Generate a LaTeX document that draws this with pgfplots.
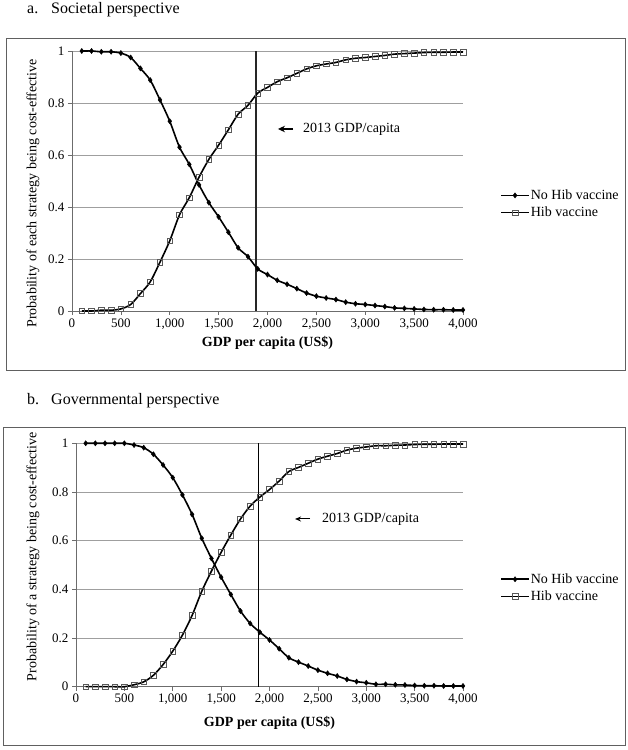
\documentclass[border=0pt]{standalone}
\usepackage{fontspec}
\setmainfont{Liberation Serif}
\usepackage{pgfplots}
\pgfplotsset{compat=1.18}
\usetikzlibrary{arrows.meta}

\pgfplotsset{
 hibaxis/.style={
  scale only axis, anchor=south west,
  xmin=0, xmax=4000, ymin=0, ymax=1,
  axis lines=left,
  axis line style={-, draw=gray!85!black, line width=0.6pt},
  xtick={0,500,1000,1500,2000,2500,3000,3500,4000},
  ytick={0,0.2,0.4,0.6,0.8,1},
  xticklabels={0,500,{1,000},{1,500},{2,000},{2,500},{3,000},{3,500},{4,000}},
  yticklabels={0,0.2,0.4,0.6,0.8,1},
  tick align=outside, major tick length=4pt,
  tick style={draw=gray!85!black, line width=0.6pt},
  ymajorgrids, grid style={draw=gray!75, line width=0.6pt},
  tick label style={font=\fontsize{13}{15}\selectfont},
  label style={font=\fontsize{14}{16}\selectfont},
  xlabel={\textbf{GDP per capita (US\$)}},
  legend style={draw=none, fill=none, font=\fontsize{14}{16}\selectfont,
    anchor=west, row sep=4pt, nodes={inner sep=1pt}},
  legend cell align=left,
  legend image code/.code={\draw[mark repeat=2, mark phase=2] plot coordinates {(0pt,0pt) (14pt,0pt) (28pt,0pt)};},
  clip=false,
 },
 nohib/.style={black, line width=1.6pt, smooth, mark=diamond*, mark size=2.6pt,
   mark options={solid, fill=black, line width=0.4pt}},
 hib/.style={black, line width=1.6pt, smooth, mark=square, mark size=2.8pt,
   mark options={solid, draw=gray!70!black, fill=white, line width=0.6pt}},
}

\pgfplotstableread{
x noa hiba
100 1.000 0.000
200 1.000 0.000
300 0.997 0.003
400 0.997 0.003
500 0.992 0.008
600 0.975 0.025
700 0.933 0.067
800 0.888 0.112
900 0.812 0.188
1000 0.730 0.270
1100 0.630 0.370
1200 0.564 0.436
1300 0.485 0.515
1400 0.417 0.583
1500 0.362 0.638
1600 0.303 0.697
1700 0.243 0.757
1800 0.209 0.791
1900 0.162 0.838
2000 0.140 0.860
2100 0.118 0.882
2200 0.103 0.897
2300 0.086 0.914
2400 0.069 0.931
2500 0.057 0.943
2600 0.050 0.950
2700 0.044 0.956
2800 0.034 0.966
2900 0.028 0.972
3000 0.025 0.975
3100 0.021 0.979
3200 0.017 0.983
3300 0.012 0.988
3400 0.010 0.990
3500 0.008 0.992
3600 0.006 0.994
3700 0.005 0.995
3800 0.005 0.995
3900 0.004 0.996
4000 0.004 0.996
}\panela

\pgfplotstableread{
x nob hibb
100 1.000 0.000
200 1.000 0.000
300 1.000 0.000
400 1.000 0.000
500 1.000 0.000
600 0.993 0.008
700 0.982 0.020
800 0.955 0.047
900 0.911 0.091
1000 0.859 0.146
1100 0.788 0.212
1200 0.708 0.293
1300 0.610 0.392
1400 0.527 0.475
1500 0.450 0.552
1600 0.379 0.623
1700 0.311 0.689
1800 0.260 0.742
1900 0.224 0.779
2000 0.192 0.810
2100 0.156 0.845
2200 0.119 0.884
2300 0.101 0.901
2400 0.085 0.918
2500 0.068 0.935
2600 0.055 0.947
2700 0.044 0.958
2800 0.030 0.972
2900 0.021 0.980
3000 0.016 0.985
3100 0.010 0.990
3200 0.010 0.990
3300 0.008 0.992
3400 0.007 0.993
3500 0.005 0.995
3600 0.004 0.996
3700 0.004 0.996
3800 0.003 0.997
3900 0.003 0.997
4000 0.003 0.997
}\panelb

\begin{document}
\begin{tikzpicture}[x=1pt,y=1pt]
\useasboundingbox (0,0) rectangle (628,750);
\fill[white] (0,0) rectangle (628,750);
% panel a
\draw[gray!75!black, line width=0.8pt] (6,380) rectangle (625.5,712);
\node[anchor=base west, inner sep=0, font=\fontsize{16}{18}\selectfont] at (27,736) {a.};
\node[anchor=base west, inner sep=0, font=\fontsize{16}{18}\selectfont] at (51,736) {Societal perspective};
\begin{axis}[hibaxis, at={(72pt,439pt)}, width=391pt, height=260pt,
  ylabel={Probability of each strategy being cost-effective},
  ylabel style={at={(axis description cs:-0.0997,0.452)}, anchor=center},
  xlabel style={at={(axis description cs:0.5,-0.123)}, anchor=center},
  legend style={at={(axis description cs:1.087,0.4115)}}]
\addplot[forget plot, gray!30!black, line width=1.5pt] coordinates {(1880,0) (1880,1)};
\addplot[nohib] table[x=x, y=noa] {\panela};
\addlegendentry{No Hib vaccine}
\addplot[hib] table[x=x, y=hiba] {\panela};
\addlegendentry{Hib vaccine}
\draw[-{Stealth[length=7pt,width=6.5pt]}, line width=1.3pt] (axis cs:2261,0.7) -- (axis cs:2107,0.7);
\node[anchor=west, inner sep=0, font=\fontsize{14}{16}\selectfont] at (axis cs:2363,0.7) {2013 GDP/capita};
\end{axis}
% panel b
\draw[gray!75!black, line width=0.8pt] (3,5) rectangle (625.5,322.3);
\node[anchor=base west, inner sep=0, font=\fontsize{16}{18}\selectfont] at (27,345) {b.};
\node[anchor=base west, inner sep=0, font=\fontsize{16}{18}\selectfont] at (51,345) {Governmental perspective};
\begin{axis}[hibaxis, at={(76pt,63.3pt)}, width=387pt, height=243.4pt,
  ylabel={Probability of a strategy being cost-effective},
  ylabel style={at={(axis description cs:-0.111,0.534)}, anchor=center},
  xlabel style={at={(axis description cs:0.5,-0.149)}, anchor=center},
  legend style={at={(axis description cs:1.088,0.406)}}]
\addplot[forget plot, black, line width=1.2pt] coordinates {(1890,0) (1890,1)};
\addplot[nohib] table[x=x, y=nob] {\panelb};
\addlegendentry{No Hib vaccine}
\addplot[hib] table[x=x, y=hibb] {\panelb};
\addlegendentry{Hib vaccine}
\draw[-{Stealth[length=6pt,width=5pt]}, line width=1pt] (axis cs:2419,0.689) -- (axis cs:2264,0.689);
\node[anchor=west, inner sep=0, font=\fontsize{14}{16}\selectfont] at (axis cs:2543,0.689) {2013 GDP/capita};
\end{axis}
\end{tikzpicture}
\end{document}
